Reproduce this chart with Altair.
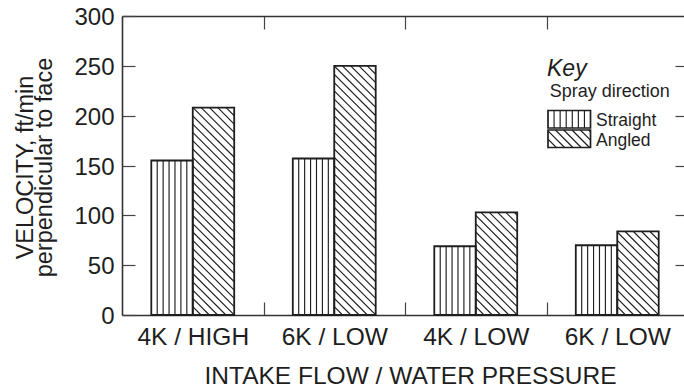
import json
import altair as alt
import pandas as pd

# ---------------- data ----------------
categories = ["4K / HIGH", "6K / LOW", "4K / LOW", "6K / LOW"]
series_names = ["Straight", "Angled"]
straight = [155, 157, 69, 70]
angled = [208, 250, 103, 84]
y_ticks = [0, 50, 100, 150, 200, 250, 300]
x_title = "INTAKE FLOW / WATER PRESSURE"
y_title = ["VELOCITY, ft/min", "perpendicular to face"]
key_title = "Key"
key_subtitle = "Spray direction"

# ---------------- layout / style constants ----------------
FONT = "Liberation Sans, Arial, Helvetica, sans-serif"
INK = "#1e1e1e"
W_PX = 562          # visible plot width
RANGE_PX = 566      # x range (right frame lies just outside the picture)
H_PX = 299
Y_MAX = 300
N_GROUPS = len(categories)
SX = RANGE_PX / N_GROUPS   # px per x unit
SY = H_PX / Y_MAX          # px per y unit
BAR_W = 0.293              # bar width in group units
N_V = 7                    # vertical hatch segments per bar
STEP = 8.3                 # diagonal hatch spacing (px, measured vertically)
TICK = "-13"               # inward ticks

rows = []
for i, cat in enumerate(categories):
    for s, vals in zip(series_names, [straight, angled]):
        rows.append({"group": i, "category": cat, "series": s, "value": vals[i]})
bars = pd.DataFrame(rows)

xs = alt.Scale(domain=[0, N_GROUPS], range=[0, RANGE_PX], nice=False, zero=False)
ys = alt.Scale(domain=[0, Y_MAX], nice=False)

base = alt.Chart(bars).transform_calculate(
    x0=f"datum.group + 0.5 - (datum.series == 'Straight' ? {BAR_W} : 0)",
    y0="0",
).transform_calculate(
    x1=f"datum.x0 + {BAR_W}"
)

cats_js = json.dumps(categories)
bottom_axis = alt.Axis(
    orient="bottom",
    values=[0.5, 1, 1.5, 2, 2.5, 3, 3.5],
    labelExpr=f"datum.value % 1 == 0 ? '' : {cats_js}[floor(datum.value)]",
    tickSize={"expr": TICK},
    tickOpacity={"condition": {"test": "datum.value % 1 == 0", "value": 1}, "value": 0},
    labelFontSize=24.5, labelPadding=42.5, labelBaseline="alphabetic",
    labelFlush=False, labelOverlap=False, labelBound=False,
    title=x_title, titleFontSize=24.5, titleFontWeight="normal",
    titleX=288, titleY=68, titleBaseline="alphabetic", titleAlign="center",
    grid=False,
)
left_axis = alt.Axis(
    orient="left",
    values=y_ticks,
    tickSize={"expr": TICK},
    labelFontSize=24, labelPadding=21, labelBaseline="middle", labelOffset=1.5,
    labelFlush=False, labelOverlap=False, labelBound=False,
    title=y_title, titleFontSize=23.5, titleFontWeight="normal", titleLineHeight=19,
    titleX=-85, titleY=H_PX / 2 + 1.5, titleAngle=270, titleBaseline="bottom",
    titleAlign="center",
    grid=False,
)
top_axis = alt.Axis(orient="top", values=[1, 2, 3], tickSize={"expr": TICK},
                    labels=False, title=None, grid=False)
right_axis = alt.Axis(orient="right", values=y_ticks[1:-1], tickSize={"expr": TICK},
                      offset=RANGE_PX - W_PX, labels=False, title=None, grid=False)

# white bar bodies
fill_layer = base.mark_rect(fill="white").encode(
    x=alt.X("x0:Q", scale=xs, axis=bottom_axis),
    x2="x1:Q",
    y=alt.Y("value:Q", scale=ys, axis=left_axis),
    y2="y0:Q",
)

# vertical hatch for Straight
v_hatch = base.transform_filter("datum.series == 'Straight'").transform_calculate(
    ks=f"sequence(1, {N_V})"
).transform_flatten(["ks"]).transform_calculate(
    hx=f"datum.x0 + datum.ks * {BAR_W} / {N_V}"
).mark_rule(color=INK, strokeWidth=1.15).encode(
    x=alt.X("hx:Q", scale=xs, axis=top_axis),
    y=alt.Y("y0:Q", scale=ys, axis=right_axis),
    y2="value:Q",
)

# diagonal hatch for Angled (45 degrees on screen)
d_hatch = base.transform_filter("datum.series == 'Angled'").transform_calculate(
    X0=f"datum.x0 * {SX}", X1=f"datum.x1 * {SX}", YV=f"datum.value * {SY}",
    ks="sequence(1, 80)",
).transform_flatten(["ks"]).transform_calculate(
    c=f"datum.X0 + datum.ks * {STEP}"
).transform_filter("datum.c < datum.X1 + datum.YV").transform_calculate(
    Xa="max(datum.X0, datum.c - datum.YV)", Xb="min(datum.X1, datum.c)"
).transform_filter("datum.Xb - datum.Xa > 0.3").transform_calculate(
    hx=f"datum.Xa / {SX}", hy=f"(datum.c - datum.Xa) / {SY}",
    hx2=f"datum.Xb / {SX}", hy2=f"(datum.c - datum.Xb) / {SY}",
).mark_rule(color=INK, strokeWidth=1.15).encode(
    x=alt.X("hx:Q", scale=xs, axis=None),
    y=alt.Y("hy:Q", scale=ys, axis=None),
    x2="hx2:Q", y2="hy2:Q",
)

outline = base.mark_rect(fillOpacity=0, stroke=INK, strokeWidth=1.8).encode(
    x=alt.X("x0:Q", scale=xs, axis=None),
    x2="x1:Q",
    y=alt.Y("value:Q", scale=ys, axis=None),
    y2="y0:Q",
)

# ---------------- key (drawn by hand, pixel positions) ----------------
legend_df = pd.DataFrame({"series": series_names, "idx": list(range(len(series_names)))})
lg = alt.Chart(legend_df).transform_calculate(
    L="426", R="468.5", T="94.5 + datum.idx * 19.5"
).transform_calculate(B="datum.T + 17.5", TY="datum.T + 15.5")

sw_fill = lg.mark_rect(fill="white").encode(
    x=alt.X("L:Q", scale=None), x2="R:Q", y=alt.Y("T:Q", scale=None), y2="B:Q")

sw_v = lg.transform_filter("datum.series == 'Straight'").transform_calculate(
    ks=f"sequence(1, {N_V})"
).transform_flatten(["ks"]).transform_calculate(
    lx=f"datum.L + datum.ks * (datum.R - datum.L) / {N_V}"
).mark_rule(color=INK, strokeWidth=1.15).encode(
    x=alt.X("lx:Q", scale=None), y=alt.Y("T:Q", scale=None), y2="B:Q")

sw_d = lg.transform_filter("datum.series == 'Angled'").transform_calculate(
    w="datum.R - datum.L", h="datum.B - datum.T", ks="sequence(1, 20)"
).transform_flatten(["ks"]).transform_calculate(
    c=f"datum.ks * {STEP}"
).transform_filter("datum.c < datum.w + datum.h").transform_calculate(
    ua="max(0, datum.c - datum.h)", ub="min(datum.w, datum.c)"
).transform_filter("datum.ub - datum.ua > 0.3").transform_calculate(
    px1="datum.L + datum.ua", py1="datum.B - (datum.c - datum.ua)",
    px2="datum.L + datum.ub", py2="datum.B - (datum.c - datum.ub)",
).mark_rule(color=INK, strokeWidth=1.15).encode(
    x=alt.X("px1:Q", scale=None), y=alt.Y("py1:Q", scale=None), x2="px2:Q", y2="py2:Q")

sw_out = lg.mark_rect(fillOpacity=0, stroke=INK, strokeWidth=1.7).encode(
    x=alt.X("L:Q", scale=None), x2="R:Q", y=alt.Y("T:Q", scale=None), y2="B:Q")

sw_text = lg.mark_text(font=FONT, fontSize=17.5, color=INK, align="left",
                       baseline="alphabetic").encode(
    x=alt.value(474), y=alt.Y("TY:Q", scale=None), text="series:N")

key_t = alt.Chart(pd.DataFrame({"t": [key_title]})).mark_text(
    font=FONT, fontSize=23, fontStyle="italic", color=INK, align="left", baseline="alphabetic"
).encode(x=alt.value(425), y=alt.value(59.7), text="t:N")

key_s = alt.Chart(pd.DataFrame({"t": [key_subtitle]})).mark_text(
    font=FONT, fontSize=18, color=INK, align="left", baseline="alphabetic"
).encode(x=alt.value(427.7), y=alt.value(80.7), text="t:N")

chart = alt.layer(
    fill_layer, v_hatch, d_hatch, outline,
    sw_fill, sw_v, sw_d, sw_out, sw_text, key_t, key_s,
).resolve_axis(
    x="independent", y="independent"
).properties(
    width=W_PX, height=H_PX,
    padding={"left": 122, "top": 16, "right": 0, "bottom": 390 - 16 - H_PX},
    autosize=alt.AutoSizeParams(type="none"),
    background="white",
).configure_view(
    strokeWidth=0
).configure_axis(
    labelFont=FONT, titleFont=FONT, labelColor=INK, titleColor=INK,
    domainColor="#333333", domainWidth=1.6, tickColor="#444444", tickWidth=1.2,
)

chart.save("out.html", embed_options={"renderer": "svg", "actions": False})
